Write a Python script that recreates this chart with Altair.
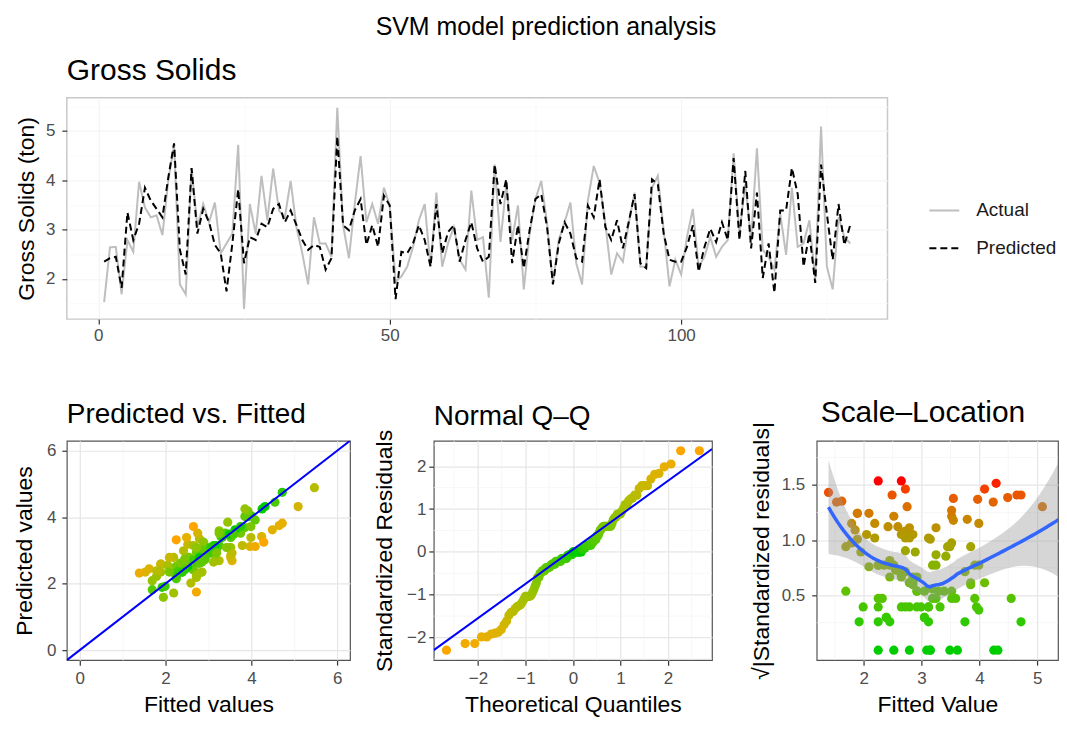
import numpy as np
import pandas as pd
import altair as alt
from statistics import NormalDist

# ---------------- data ----------------
actual = [1.53, 2.64, 2.65, 1.69, 2.79, 2.55, 3.97, 3.45, 3.25, 3.29,
          2.89, 3.99, 4.72, 1.89, 1.69, 4.25, 3.05, 3.52, 3.15, 3.55,
          2.52, 2.72, 2.92, 4.72, 1.39, 3.52, 2.92, 4.09, 3.19, 4.24,
          3.39, 3.25, 3.99, 3.05, 2.52, 1.89, 3.25, 2.72, 2.72, 2.45,
          5.47, 3.09, 2.42, 3.52, 4.49, 3.15, 3.52, 3.12, 3.85, 3.49,
          1.95, 2.05, 2.25, 2.65, 3.19, 3.52, 2.25, 3.75, 2.25, 2.72,
          3.05, 2.39, 2.19, 3.79, 2.79, 2.85, 1.62, 4.32, 2.75, 3.92,
          2.79, 3.49, 1.79, 2.92, 3.62, 3.99, 3.12, 1.92, 2.79, 3.15,
          3.55, 2.32, 1.89, 3.59, 4.29, 3.95, 3.12, 2.09, 2.52, 2.35,
          3.12, 3.75, 2.25, 2.25, 3.85, 4.09, 2.99, 1.85, 2.39, 2.09,
          2.85, 3.42, 2.25, 2.45, 2.85, 2.45, 2.65, 2.79, 4.55, 2.92,
          3.92, 2.79, 4.65, 2.59, 2.45, 2.19, 3.32, 2.49, 3.85, 2.65,
          2.72, 3.19, 1.99, 5.09, 2.25, 1.79, 3.25, 2.85, 2.72]

predicted = [2.35, 2.42, 2.45, 1.82, 3.35, 2.79, 3.12, 3.85, 3.59, 3.42,
             3.25, 4.05, 4.75, 2.59, 2.09, 4.25, 2.92, 3.42, 3.15, 2.69,
             2.52, 1.75, 2.72, 3.82, 2.32, 2.85, 2.79, 3.12, 3.05, 3.42,
             3.52, 3.15, 3.39, 3.09, 2.79, 2.59, 2.69, 2.65, 2.19, 2.42,
             4.89, 3.09, 2.99, 3.39, 3.62, 2.69, 3.09, 2.65, 3.69, 3.49,
             1.59, 2.55, 2.52, 2.72, 3.09, 2.79, 2.25, 3.52, 2.52, 2.95,
             3.09, 2.35, 2.79, 3.15, 2.62, 2.35, 2.45, 4.32, 3.52, 4.02,
             2.32, 3.09, 2.22, 2.99, 3.62, 3.72, 3.05, 1.89, 2.72, 3.15,
             2.92, 2.42, 2.35, 3.49, 3.25, 4.02, 3.05, 2.79, 3.19, 2.62,
             3.15, 3.72, 2.32, 2.22, 4.02, 3.92, 2.92, 2.39, 2.35, 2.35,
             2.65, 3.09, 2.15, 2.65, 3.02, 2.75, 3.15, 2.79, 4.45, 2.79,
             4.19, 2.62, 3.75, 2.02, 2.72, 1.72, 3.39, 3.39, 4.25, 3.72,
             2.25, 2.92, 1.92, 4.32, 3.32, 2.39, 3.52, 2.69, 3.09]

series_names = ["Actual", "Predicted"]
top_x_ticks = [0, 25, 50, 75, 100, 125]
top_y_ticks = [1.5, 2, 2.5, 3, 3.5, 4, 4.5, 5, 5.5]
pvf_limits = [0, 6]
pvf_ticks = [0, 1, 2, 3, 4, 5, 6]
qq_major = [-2, -1, 0, 1, 2]
qq_minor = [-2.5, -1.5, -0.5, 0.5, 1.5, 2.5]
sl_x_major = [2, 3, 4, 5]
sl_x_minor = [1.5, 2.5, 3.5, 4.5]
sl_y_major = [0.5, 1.0, 1.5]
sl_y_minor = [0.25, 0.75, 1.25, 1.75]
sl_x_right = 5.36

FONT = "Liberation Sans"
GMAJ, GMIN = "#E6E6E6", "#F3F3F3"
n = len(actual)
index = list(range(1, n + 1))


def expand(lo, hi, f=0.05):
    lo, hi = float(lo), float(hi)
    d = (hi - lo) * f
    return [round(lo - d, 4), round(hi + d, 4)]


act = np.array(actual, dtype=float)
pred = np.array(predicted, dtype=float)
resid = pred - act
std_resid = resid / resid.std(ddof=1)
abs_r = np.abs(std_resid)
sqrt_r = np.sqrt(abs_r)

# ---------------- Q-Q ----------------
nd = NormalDist()
probs = (np.arange(1, n + 1) - 0.5) / n
theo = np.array([nd.inv_cdf(p) for p in probs])
sample = np.sort(std_resid)
q25, q75 = np.quantile(std_resid, [0.25, 0.75])
x25, x75 = nd.inv_cdf(0.25), nd.inv_cdf(0.75)
slope = float((q75 - q25) / (x75 - x25))
intercept = float(q25 - slope * x25)
qq_xdom = expand(theo.min(), theo.max())
qq_ydom = expand(sample.min(), sample.max())


# ---------------- loess (span .75, degree 2) with 95% band ----------------
def loess_rows(x, xs, span=0.75):
    q = int(np.floor(len(x) * span))
    rows = []
    for x0 in xs:
        d = np.abs(x - x0)
        h = np.sort(d)[q - 1]
        w = np.clip(1 - (d / h) ** 3, 0, None) ** 3
        B = np.column_stack([np.ones(len(x)), x - x0, (x - x0) ** 2])
        BW = B * w[:, None]
        M = np.linalg.solve(B.T @ BW, BW.T)
        rows.append(M[0])
    return np.array(rows)


L = loess_rows(act, act)
fitted = L @ sqrt_r
R = np.eye(n) - L
delta1 = np.trace(R.T @ R)
sigma = np.sqrt(((sqrt_r - fitted) ** 2).sum() / delta1)
xs = np.linspace(act.min(), act.max(), 80)
Lg = loess_rows(act, xs)
fit = Lg @ sqrt_r
se = sigma * np.sqrt((Lg ** 2).sum(axis=1))
lo = fit - 1.98 * se
hi = fit + 1.98 * se

sl_xdom = [expand(act.min(), act.max())[0], sl_x_right]
sl_ydom = expand(min(sqrt_r.min(), lo.min()), max(sqrt_r.max(), hi.max()))

# ---------------- frames ----------------
df_top = pd.DataFrame({
    "Index": index + index,
    "Value": actual + predicted,
    "Series": [series_names[0]] * n + [series_names[1]] * n,
})
df_pts = pd.DataFrame({"Actual": actual, "Predicted": predicted,
                       "absr": abs_r, "sqr": sqrt_r})
df_qq = pd.DataFrame({"theo": theo, "sample": sample, "absr": np.abs(sample)})
df_qqline = pd.DataFrame({"x": qq_xdom,
                          "y": [intercept + slope * v for v in qq_xdom]})
pvf_dom = expand(*pvf_limits)
df_abline = pd.DataFrame({"v": pvf_dom})
df_smooth = pd.DataFrame({"x": xs, "fit": fit, "lo": lo, "hi": hi})


def axis(values, dom, step, title=None, fmt="d", tick=5, pad=6, tpad=10,
         gmaj=GMAJ, gmin=GMIN, lsize=17, tsize=23):
    vals = [float(v) for v in values if dom[0] <= v <= dom[1]]
    major = f"abs(datum.value / {step} - round(datum.value / {step})) < 0.001"
    return alt.Axis(
        values=vals, title=title, labelOverlap=False,
        labelExpr=f"({major}) ? format(datum.value, '{fmt}') : ''",
        gridColor={"condition": {"test": major, "value": gmaj}, "value": gmin},
        gridWidth={"condition": {"test": major, "value": 1.2}, "value": 0.7},
        tickOpacity={"condition": {"test": major, "value": 1}, "value": 0},
        tickSize=tick, labelPadding=pad, titlePadding=tpad, domain=False,
        labelFontSize=lsize, titleFontSize=tsize, tickColor="#333333",
        tickWidth=1.2,
    )


def simple_axis(values, title, fmt="d", tick=5, pad=6, tpad=10, lsize=17, tsize=23):
    return alt.Axis(
        values=[float(v) for v in values], title=title, format=fmt, labelOverlap=False,
        gridColor=GMAJ, gridWidth=1.2, tickSize=tick, labelPadding=pad,
        titlePadding=tpad, domain=False, labelFontSize=lsize, titleFontSize=tsize,
        tickColor="#333333", tickWidth=1.2,
    )


def sc(dom):
    return alt.Scale(domain=[float(v) for v in dom], nice=False, zero=False)


def minor_rules(vals, dom, channel, scale_dom, ax):
    vv = [float(v) for v in vals if dom[0] <= v <= dom[1]]
    base = alt.Chart(pd.DataFrame({"v": vv})).mark_rule(color=GMIN, strokeWidth=0.7)
    if channel == "x":
        return base.encode(x=alt.X("v:Q", scale=sc(scale_dom), axis=ax))
    return base.encode(y=alt.Y("v:Q", scale=sc(scale_dom), axis=ax))


panel_view = alt.ViewBackground(stroke="#555555", strokeWidth=1.2)

# ---------------- top time series ----------------
top_xdom = expand(1, n)
top_ydom = expand(min(actual + predicted), max(actual + predicted))
top = alt.Chart(df_top).mark_line(strokeWidth=2, clip=True).encode(
    x=alt.X("Index:Q", scale=sc(top_xdom),
            axis=axis(top_x_ticks, top_xdom, 50, None, gmaj="#F4F4F4", gmin="#F8F8F8", pad=3)),
    y=alt.Y("Value:Q", scale=sc(top_ydom),
            axis=axis(top_y_ticks, top_ydom, 1, "Gross Solids (ton)",
                      gmaj="#F4F4F4", gmin="#F8F8F8", pad=7, tpad=7)),
    color=alt.Color("Series:N",
                    scale=alt.Scale(domain=series_names, range=["#BEBEBE", "#000000"]),
                    legend=alt.Legend(title=None, orient="none", legendX=864, legendY=97,
                                      symbolType="stroke", symbolSize=900,
                                      symbolStrokeWidth=2, labelFontSize=19,
                                      labelColor="#1A1A1A", rowPadding=12,
                                      labelOffset=16, padding=0)),
    strokeDash=alt.StrokeDash("Series:N",
                              scale=alt.Scale(domain=series_names, range=[[1, 0], [7, 4]]),
                              legend=None),
).properties(
    width=823, height=222,
    title=alt.TitleParams("Gross Solids", anchor="start", frame="group",
                          fontSize=30, offset=11),
    view=alt.ViewBackground(stroke="#C8C8C8", strokeWidth=1.5),
)

# ---------------- Predicted vs Fitted ----------------
pvf_pts = alt.Chart(df_pts).mark_circle(size=85, opacity=1).encode(
    x=alt.X("Actual:Q", scale=sc(pvf_dom),
            axis=axis(pvf_ticks, pvf_dom, 2, "Fitted values", pad=5, tpad=7)),
    y=alt.Y("Predicted:Q", scale=sc(pvf_dom),
            axis=axis(pvf_ticks, pvf_dom, 2, "Predicted values", tpad=10)),
    color=alt.Color("absr:Q", scale=alt.Scale(range=["#00CD00", "#FFA500"], interpolate="lab"),
                    legend=None),
)
pvf_line = alt.Chart(df_abline).mark_line(color="#0000FF", strokeWidth=2, clip=True).encode(
    x="v:Q", y="v:Q")
pvf = alt.layer(pvf_pts, pvf_line).properties(
    width=284, height=220,
    title=alt.TitleParams("Predicted vs. Fitted", anchor="start", frame="group",
                          fontSize=28, offset=12),
    view=panel_view,
)

# ---------------- Normal Q-Q ----------------
qq_xax = simple_axis(qq_major, "Theoretical Quantiles", pad=5, tpad=7)
qq_yax = simple_axis(qq_major, "Standardized Residuals", pad=3, tpad=10)
qq_pts = alt.Chart(df_qq).mark_circle(size=85, opacity=1).encode(
    x=alt.X("theo:Q", scale=sc(qq_xdom), axis=qq_xax),
    y=alt.Y("sample:Q", scale=sc(qq_ydom), axis=qq_yax),
    color=alt.Color("absr:Q", scale=alt.Scale(range=["#00CD00", "#FFA500"], interpolate="lab"),
                    legend=None),
)
qq_line = alt.Chart(df_qqline).mark_line(color="#0000FF", strokeWidth=2, clip=True).encode(
    x=alt.X("x:Q", axis=qq_xax), y=alt.Y("y:Q", axis=qq_yax))
qq = alt.layer(
    minor_rules(qq_minor, qq_xdom, "x", qq_xdom, qq_xax),
    minor_rules(qq_minor, qq_ydom, "y", qq_ydom, qq_yax),
    qq_pts, qq_line,
).properties(
    width=279, height=220,
    title=alt.TitleParams("Normal Q\u2013Q", anchor="start", frame="group",
                          fontSize=28, offset=0, dy=2),
    view=panel_view,
)

# ---------------- Scale-Location ----------------
sl_xax = simple_axis(sl_x_major, "Fitted Value", pad=5, tpad=7)
sl_yax = simple_axis(sl_y_major, "\u221A|Standardized residuals|", fmt=".1f", pad=7, tpad=8)
sl_pts = alt.Chart(df_pts).mark_circle(size=85, opacity=1, clip=True).encode(
    x=alt.X("Actual:Q", scale=sc(sl_xdom), axis=sl_xax),
    y=alt.Y("sqr:Q", scale=sc(sl_ydom), axis=sl_yax),
    color=alt.Color("absr:Q", scale=alt.Scale(range=["#00CD00", "#FF0000"], interpolate="lab"),
                    legend=None),
)
sl_band = alt.Chart(df_smooth).mark_area(color="#999999", opacity=0.4, clip=True).encode(
    x=alt.X("x:Q", axis=sl_xax), y=alt.Y("lo:Q", axis=sl_yax), y2="hi:Q")
sl_line = alt.Chart(df_smooth).mark_line(color="#3366FF", strokeWidth=3.5, clip=True).encode(
    x=alt.X("x:Q", axis=sl_xax), y=alt.Y("fit:Q", axis=sl_yax))
sl = alt.layer(
    minor_rules(sl_x_minor, sl_xdom, "x", sl_xdom, sl_xax),
    minor_rules(sl_y_minor, sl_ydom, "y", sl_ydom, sl_yax),
    sl_pts, sl_band, sl_line,
).properties(
    width=242, height=220,
    title=alt.TitleParams("Scale\u2013Location", anchor="start", frame="group",
                          fontSize=30, offset=0, dy=6, dx=4),
    view=panel_view,
)


def spacer(w):
    return alt.Chart(pd.DataFrame({"s": [0]})).mark_point(opacity=0).properties(
        width=w, height=220, view=alt.ViewBackground(strokeOpacity=0))


bottom = alt.hconcat(pvf, spacer(84), qq, spacer(105), sl, spacing=0,
                     bounds="flush").resolve_scale(color="independent")

chart = alt.vconcat(top, bottom, spacing=122, bounds="flush").resolve_scale(
    color="independent", strokeDash="independent"
).properties(
    title=alt.TitleParams("SVM model prediction analysis", anchor="middle", frame="bounds",
                          fontSize=25, offset=16, dx=10),
    padding={"left": 4, "top": 5, "right": 0, "bottom": 0},
).configure(font=FONT).configure_axis(
    labelFont=FONT, titleFont=FONT, labelColor="#4D4D4D", titleColor="#000000",
    titleFontWeight="normal",
).configure_title(
    font=FONT, fontWeight="normal", color="#000000",
).configure_legend(labelFont=FONT)

chart.save("out.html", embed_options={"renderer": "svg", "actions": False})
